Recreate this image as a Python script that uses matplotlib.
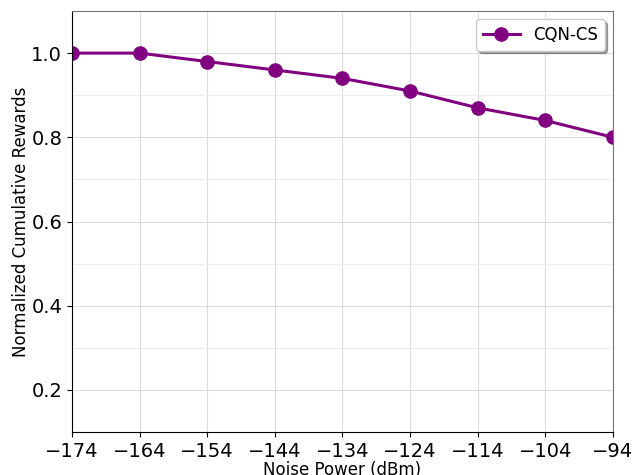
import matplotlib
matplotlib.use("Agg")
import matplotlib.pyplot as plt
import numpy as np

noise_power = [-174, -164, -154, -144, -134, -124, -114, -104, -94]
rewards = [1.00, 1.00, 0.98, 0.96, 0.94, 0.91, 0.87, 0.84, 0.80]
series_label = "CQN-CS"

fig = plt.figure(figsize=(6.33, 4.75), dpi=100)
ax = fig.add_axes([0.1137, 0.0905, 0.8547, 0.8863])

ax.plot(noise_power, rewards, color="purple", linewidth=2.2, marker="o",
        markersize=9.5, label=series_label)

ax.set_xlim(-174, -94)
ax.set_ylim(0.1, 1.1)
ax.set_xticks(noise_power)
ax.set_yticks([0.2, 0.4, 0.6, 0.8, 1.0])
ax.set_yticks(np.arange(0.1, 1.11, 0.1), minor=True)
ax.tick_params(axis="both", which="major", labelsize=14)
ax.tick_params(axis="y", which="minor", length=0)
ax.grid(True, which="major", color="#dddddd", linewidth=0.8)
ax.grid(True, which="minor", axis="y", color="#eeeeee", linewidth=0.8)
ax.set_axisbelow(True)

ax.set_xlabel("Noise Power (dBm)", fontsize=12, labelpad=0)
ax.set_ylabel("Normalized Cumulative Rewards", fontsize=12, labelpad=1)

for side in ("top", "right"):
    ax.spines[side].set_color("#777777")

ax.legend(loc="upper right", fontsize=12, shadow=True, fancybox=True,
          handlelength=2.2)

fig.savefig("out.png", dpi=100)
